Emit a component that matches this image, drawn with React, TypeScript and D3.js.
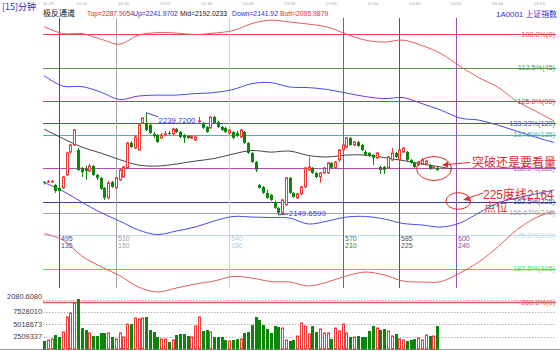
import React from 'react';
import * as d3 from 'd3';

// 15-minute bars, index 0 = first bar on screen (cycle count 491)
const opens = [
  2179.0, 2178.7, 2178.9, 2176.1, 2173.5, 2173.5, 2184.9, 2205.1, 2211.3, 2206.9,
  2191.1, 2190.2, 2188.4, 2192.8, 2184.9, 2182.3, 2173.5, 2164.7, 2178.7, 2173.5,
  2180.5, 2183.1, 2191.1, 2213.1, 2208.7, 2206.9, 2230.7, 2230.7, 2228.9, 2221.0,
  2220.1, 2217.5, 2220.6, 2221.9, 2221.0, 2225.4, 2222.7, 2220.1, 2219.2, 2217.5,
  2215.7, 2232.0, 2230.7, 2227.2, 2226.3, 2235.9, 2231.5, 2227.2, 2226.3, 2221.9,
  2222.7, 2221.9, 2218.3, 2222.7, 2213.1, 2204.3, 2196.3, 2176.1, 2174.3, 2169.1,
  2167.3, 2161.1, 2155.9, 2151.5, 2158.5, 2182.3, 2169.1, 2164.7, 2168.2, 2174.3,
  2189.3, 2191.1, 2186.7, 2183.1, 2186.7, 2186.7, 2195.5, 2191.1, 2198.1, 2206.9,
  2209.5, 2217.5, 2211.3, 2213.9, 2211.3, 2205.1, 2204.3, 2202.5, 2199.9, 2191.9,
  2191.9, 2191.1, 2198.1, 2204.3, 2198.1, 2205.1, 2205.1, 2198.1, 2195.5, 2193.7,
  2194.6, 2194.6, 2193.7, 2191.9, 2191.1,
];
const highs = [
  2179.6, 2180.5, 2180.5, 2177.0, 2175.2, 2184.0, 2205.1, 2212.2, 2225.4, 2208.7,
  2191.9, 2192.8, 2194.6, 2193.7, 2185.8, 2183.1, 2174.3, 2179.6, 2179.6, 2183.1,
  2190.2, 2192.8, 2213.9, 2214.8, 2220.1, 2229.8, 2235.9, 2239.72, 2229.8, 2222.7,
  2221.0, 2221.9, 2223.6, 2223.6, 2226.3, 2226.3, 2223.6, 2221.0, 2220.1, 2220.1,
  2220.1, 2235.9, 2231.5, 2228.0, 2236.8, 2236.8, 2232.4, 2228.0, 2227.2, 2225.4,
  2223.6, 2223.6, 2225.4, 2223.6, 2213.9, 2205.1, 2197.2, 2177.0, 2175.2, 2171.7,
  2168.2, 2162.0, 2156.7, 2163.8, 2183.1, 2183.1, 2169.9, 2169.1, 2175.2, 2191.9,
  2200.7, 2191.9, 2187.5, 2187.5, 2191.9, 2196.3, 2196.3, 2197.2, 2207.8, 2212.2,
  2218.3, 2218.3, 2214.8, 2214.8, 2212.2, 2206.9, 2205.1, 2203.4, 2205.1, 2192.8,
  2192.8, 2201.6, 2208.7, 2205.1, 2207.8, 2209.5, 2206.0, 2199.0, 2196.3, 2197.2,
  2199.9, 2198.1, 2194.6, 2192.8, 2191.9,
];
const lows = [
  2176.5, 2177.9, 2177.9, 2169.1, 2169.1, 2172.6, 2184.0, 2203.4, 2210.4, 2188.4,
  2183.1, 2180.5, 2187.5, 2184.0, 2180.5, 2171.7, 2162.9, 2163.8, 2173.5, 2172.6,
  2179.6, 2182.3, 2190.2, 2208.7, 2207.8, 2206.0, 2229.8, 2223.6, 2221.0, 2217.5,
  2213.1, 2216.6, 2219.2, 2220.1, 2220.1, 2221.9, 2217.5, 2213.1, 2216.6, 2216.6,
  2214.8, 2230.7, 2225.4, 2221.9, 2225.4, 2229.8, 2226.3, 2223.6, 2221.9, 2220.1,
  2216.6, 2218.3, 2217.5, 2212.2, 2203.4, 2195.5, 2187.5, 2172.6, 2168.2, 2163.8,
  2162.0, 2155.0, 2149.66, 2150.6, 2157.6, 2168.2, 2164.7, 2163.8, 2167.3, 2173.5,
  2188.4, 2185.8, 2182.3, 2177.9, 2185.8, 2185.8, 2190.2, 2190.2, 2196.3, 2206.0,
  2208.7, 2210.4, 2210.4, 2209.5, 2206.0, 2201.6, 2200.7, 2193.7, 2199.0, 2185.8,
  2185.8, 2190.2, 2197.2, 2199.9, 2197.2, 2204.3, 2197.2, 2194.6, 2191.1, 2192.8,
  2193.7, 2193.7, 2189.3, 2191.1, 2188.4,
];
const closes = [
  2178.7, 2179.2, 2179.3, 2170.8, 2170.8, 2183.1, 2204.3, 2211.3, 2224.5, 2189.3,
  2187.5, 2188.4, 2192.8, 2184.9, 2182.3, 2172.6, 2164.7, 2177.9, 2174.3, 2182.3,
  2189.3, 2191.9, 2213.1, 2209.5, 2218.3, 2228.9, 2235.1, 2224.5, 2221.9, 2219.2,
  2213.9, 2220.1, 2221.0, 2221.5, 2225.4, 2222.7, 2218.3, 2217.5, 2217.5, 2219.2,
  2218.3, 2232.4, 2226.3, 2222.7, 2235.9, 2230.7, 2227.2, 2224.5, 2222.7, 2224.5,
  2217.5, 2219.2, 2224.5, 2213.1, 2204.3, 2196.3, 2189.3, 2173.5, 2169.1, 2164.7,
  2162.9, 2155.9, 2151.5, 2162.9, 2182.3, 2169.1, 2165.5, 2168.2, 2174.3, 2191.1,
  2191.9, 2186.7, 2183.1, 2186.7, 2191.1, 2195.5, 2191.1, 2196.3, 2206.9, 2211.3,
  2217.5, 2211.3, 2213.9, 2210.4, 2206.9, 2202.5, 2201.6, 2199.9, 2204.3, 2189.3,
  2189.3, 2200.7, 2204.3, 2200.7, 2206.9, 2208.7, 2198.1, 2195.5, 2191.9, 2196.3,
  2198.1, 2197.2, 2190.2, 2191.9, 2189.3,
];
const volumes = [
  1630000, 1830000, 2030000, 2840000, 2440000, 3450000, 6500000, 7310000, 9350000, 10160000,
  4270000, 3860000, 3250000, 2640000, 2640000, 3250000, 3250000, 3250000, 2440000, 2030000,
  3250000, 2440000, 5080000, 5080000, 6300000, 6100000, 6300000, 6500000, 3860000, 3450000,
  2440000, 2030000, 2030000, 1420000, 1830000, 2840000, 3050000, 3050000, 2640000, 2440000,
  4670000, 6500000, 3660000, 3860000, 3450000, 2440000, 2440000, 2440000, 1830000, 1630000,
  1830000, 2030000, 2030000, 3250000, 3450000, 4880000, 6500000, 5890000, 4880000, 4060000,
  3250000, 4670000, 4470000, 4270000, 1830000, 1630000, 1830000, 2640000, 5280000, 4670000,
  3050000, 4670000, 3450000, 4060000, 3250000, 3250000, 2030000, 4270000, 3660000, 5080000,
  3250000, 2440000, 2440000, 2640000, 2440000, 2440000, 3660000, 4670000, 4270000, 3860000,
  4060000, 3660000, 2640000, 3050000, 2030000, 1830000, 1630000, 1830000, 2030000, 2240000,
  1830000, 2840000, 2640000, 2640000, 4670000,
];

// channel lines, sampled every 5 bars (bar index in chanIdx)
const chanIdx = [0, 5, 10, 15, 20, 25, 30, 35, 40, 45, 50, 55, 60, 65, 70, 75, 80, 85, 90, 95, 100, 105, 110, 115, 120, 125, 130, 135];
const topLine = [2315.5, 2309.4, 2309.4, 2304.5, 2300.1, 2308.0, 2310.2, 2309.8, 2308.5, 2309.8, 2312.0, 2318.2, 2321.2, 2319.5, 2317.7, 2315.1, 2308.9, 2303.6, 2301.9, 2303.6, 2298.8, 2291.8, 2280.7, 2270.6, 2262.3, 2250.0, 2241.1, 2232.3];
const upLine = [2272.4, 2263.1, 2262.7, 2257.9, 2251.3, 2254.4, 2255.2, 2255.2, 2256.5, 2257.4, 2260.1, 2265.3, 2266.2, 2262.3, 2261.8, 2260.1, 2257.0, 2253.9, 2252.1, 2253.0, 2247.7, 2242.0, 2235.0, 2233.2, 2228.8, 2223.5, 2218.2, 2213.4];
const downLine = [2178.2, 2170.7, 2161.0, 2151.8, 2144.3, 2136.4, 2132.4, 2135.5, 2139.0, 2144.3, 2148.3, 2147.8, 2147.4, 2146.9, 2141.7, 2144.3, 2147.8, 2148.3, 2146.1, 2142.1, 2140.8, 2139.0, 2142.5, 2151.4, 2160.1, 2164.5, 2168.1, 2171.6];
const bottLine = [2133.3, 2127.6, 2113.5, 2104.2, 2096.3, 2086.2, 2081.8, 2085.3, 2088.8, 2091.5, 2095.5, 2094.1, 2091.0, 2090.6, 2087.1, 2090.6, 2095.9, 2099.4, 2096.8, 2091.5, 2090.6, 2091.0, 2098.5, 2108.2, 2121.4, 2136.4, 2147.0, 2153.1];
const midIdx = [0, 5, 10, 15, 20, 25, 30, 35, 40, 45, 50, 55, 60, 65, 70, 75, 80, 85, 90, 95, 100, 105, 108];
const midLine = [2225.3, 2217.0, 2209.4, 2204.2, 2198.4, 2193.6, 2192.7, 2194.5, 2197.1, 2199.3, 2203.3, 2206.4, 2205.0, 2205.9, 2202.0, 2200.7, 2202.4, 2202.4, 2200.2, 2197.6, 2194.5, 2191.9, 2190.1];

// gann levels
const levelPct = [100, 112.5, 125, 133.33, 137.5, 150, 162.5, 166.67, 175, 187.5, 200];
const levelNames = ['100.0%(0)', '112.5%(45)', '125.0%(90)', '133.33%(120)', '137.5%(135)', '150.0%(180)', '162.5%(225)', '166.67%(240)', '175.0%(270)', '187.5%(315)', '200.0%(0)'];
const levelColors = ['#e44a4a', '#4f9a4f', '#b04c4c', '#4a4ae0', '#4eb4aa', '#b04cb0', '#3e3e9a', '#a4a4a4', '#c6daee', '#4ee04e', '#e45a5a'];

// time cycle lines
const cycleIdx = [4, 19, 49, 79, 94, 109];
const cycleA = ['495', '510', '540', '570', '585', '600'];
const cycleB = ['135', '150', '180', '210', '225', '240'];
const cycleColors = ['#4a4aa0', '#a8a8a8', '#c8d4e8', '#3a8a3a', '#8a3a5a', '#9050b8'];
const cycleText = ['#4a4aa0', '#a0a0a0', '#b8c8e0', '#3a7a3a', '#7a4a3a', '#7050a0'];

const timeIdx = [0, 10, 21, 32, 43, 54, 65, 76, 87, 98, 109, 120, 131];
const timeLabels = ['11:25', '10:15', '14:30', '13:15', '10:30', '14:45', '13:30', '10:45', '15:00', '13:44', '10:53', '09:44', '13:53'];

const volTicks = [2509337, 5018673, 7528010];
const volTickNames = ['2509337', '5018673', '7528010'];

const x = d3.scaleLinear().domain([0, 135]).range([44, 554.3]);
const yPrice = d3.scaleLinear().domain([2073, 2309]).range([302, 34]);
const yLevel = d3.scaleLinear().domain([100, 200]).range([34, 302]);
const yVol = d3.scaleLinear().domain([0, 10037346]).range([349, 299.6]);

const RED = '#f03a3a';
const GREEN = '#0b860b';
const FONT = '"Liberation Sans", "Noto Sans CJK SC", sans-serif';
const CJK = '"Noto Sans CJK SC", sans-serif';

function path(idx: number[], vals: number[]) {
  return d3.line<number>()
    .x((_, i) => x(idx[i]))
    .y(v => yPrice(v))
    .curve(d3.curveCatmullRom)(vals) || '';
}

export default function App() {
  const hiIdx = highs.indexOf(d3.max(highs) as number);
  const loIdx = lows.indexOf(d3.min(lows) as number);
  return (
    <svg width={560} height={351} style={{ position: 'absolute', left: 0, top: 0, background: '#fff' }}
      fontFamily={FONT}>
      <rect width={560} height={351} fill="#fff" />

      {/* header */}
      <text x={2} y={10} fontSize={9} fill="#2a2ac8" fontFamily={CJK}>[15]分钟</text>
      {timeIdx.map((t, i) => (
        <text key={i} x={i === 0 ? 43 : x(t)} y={5} fontSize={4.4} fill="#a8a8a8"
          textAnchor={i === 0 ? 'start' : 'middle'}>{timeLabels[i]}</text>
      ))}
      <text x={43} y={16} fontSize={8} fill="#111" fontFamily={CJK}>极反通道</text>
      <text x={87} y={16} fontSize={6.8} fill="#e02c2c">Top=2287.9054</text>
      <text x={133} y={16} fontSize={6.8} fill="#2c2cd8">Up=2241.9702</text>
      <text x={180} y={16} fontSize={6.8} fill="#111">Mid=2192.0233</text>
      <text x={232} y={16} fontSize={6.8} fill="#2c2cd8">Down=2141.92</text>
      <text x={280} y={16} fontSize={6.8} fill="#e02c2c">Bott=2095.9879</text>
      <text x={557} y={16.5} fontSize={7.9} fill="#2c2cd8" textAnchor="end">1A0001 <tspan fontFamily={CJK}>上证指数</tspan></text>

      {/* level lines */}
      {levelPct.map((p, i) => (
        <line key={i} x1={43} x2={556} y1={Math.round(yLevel(p)) + 0.5} y2={Math.round(yLevel(p)) + 0.5}
          stroke={levelColors[i]} strokeWidth={i === 10 ? 1.4 : 1} />
      ))}

      {/* volume grid */}
      {volTicks.map((v, i) => (
        <g key={i}>
          <line x1={43} x2={556} y1={Math.round(yVol(v)) + 0.5} y2={Math.round(yVol(v)) + 0.5}
            stroke="#b4b4b4" strokeDasharray="1.5,1.5" />
          <text x={42} y={yVol(v) + 2.5} fontSize={7.4} fill="#404040" textAnchor="end">{volTickNames[i]}</text>
        </g>
      ))}
      <line x1={43} x2={556} y1={Math.round(yVol(10037346)) + 0.5} y2={Math.round(yVol(10037346)) + 0.5}
        stroke="#f09a9a" strokeDasharray="1.5,1.5" />
      <text x={42} y={298.5} fontSize={7.4} fill="#404040" textAnchor="end">2080.6080</text>
      <line x1={0} x2={560} y1={349.5} y2={349.5} stroke="#999" />

      {/* cycle lines */}
      {cycleIdx.map((c, i) => {
        const cx = Math.round(x(c)) + 0.5;
        return (
          <g key={i}>
            <line x1={cx} x2={cx} y1={18} y2={288} stroke={cycleColors[i]} />
            <text x={cx + 1.5} y={241} fontSize={7} fill={cycleText[i]}>{cycleA[i]}</text>
            <text x={cx + 1.5} y={248} fontSize={7} fill={cycleText[i]}>{cycleB[i]}</text>
          </g>
        );
      })}

      {/* channel */}
      <path d={path(chanIdx, topLine)} fill="none" stroke="#e85a5a" />
      <path d={path(chanIdx, upLine)} fill="none" stroke="#4a4ae2" />
      <path d={path(midIdx, midLine)} fill="none" stroke="#444" />
      <path d={path(chanIdx, downLine)} fill="none" stroke="#4a4ae2" />
      <path d={path(chanIdx, bottLine)} fill="none" stroke="#e85a5a" />

      {/* level labels */}
      {levelPct.map((p, i) => (
        <text key={i} x={555} y={yLevel(p) + 2.6} fontSize={7.3} fill={levelColors[i]} textAnchor="end">{levelNames[i]}</text>
      ))}

      {/* candles */}
      {opens.map((o, i) => {
        const c = closes[i];
        const up = c >= o;
        const col = up ? RED : GREEN;
        const cx = Math.round(x(i)) + 0.5;
        const yt = yPrice(Math.max(o, c));
        const yb = yPrice(Math.min(o, c));
        return (
          <g key={i}>
            <line x1={cx} x2={cx} y1={yPrice(highs[i])} y2={yt} stroke={col} />
            <line x1={cx} x2={cx} y1={yb} y2={yPrice(lows[i])} stroke={col} />
            {up
              ? <rect x={cx - 1} y={yt} width={2} height={Math.max(yb - yt, 0.6)} fill="#fff" stroke={col} />
              : <rect x={cx - 1.5} y={yt} width={3} height={Math.max(yb - yt, 1)} fill={col} />}
          </g>
        );
      })}

      {/* volume bars */}
      {volumes.map((v, i) => {
        const up = closes[i] >= opens[i];
        const cx = Math.round(x(i)) + 0.5;
        const yt = yVol(v);
        return up
          ? <rect key={i} x={cx - 1} y={yt} width={2} height={349 - yt} fill="#fff" stroke={RED} />
          : <rect key={i} x={cx - 1.5} y={yt} width={3} height={349.5 - yt} fill={GREEN} />;
      })}

      {/* high / low labels */}
      <line x1={x(hiIdx)} y1={yPrice(highs[hiIdx])} x2={x(hiIdx) + 12} y2={yPrice(highs[hiIdx]) + 4} stroke="#4040d0" />
      <text x={x(hiIdx) + 12.5} y={yPrice(highs[hiIdx]) + 10} fontSize={7.8} fill="#3a3ad0">2239.7200</text>
      <line x1={x(loIdx)} y1={yPrice(lows[loIdx])} x2={x(loIdx) + 10} y2={yPrice(lows[loIdx]) - 1} stroke="#4040d0" />
      <text x={x(loIdx) + 10.5} y={yPrice(lows[loIdx]) + 1.5} fontSize={7.8} fill="#3a3ad0">2149.6599</text>

      {/* annotations */}
      <ellipse cx={434} cy={168.5} rx={17.5} ry={12} fill="none" stroke="#e02a2a" />
      <line x1={447} y1={164.5} x2={470} y2={162.5} stroke="#e02a2a" />
      <path d="M442,165 L448,161.5 L448,167.5 Z" fill="#e02a2a" />
      <text x={472} y={167} fontSize={12} fill="#e02a2a" fontFamily={CJK}>突破还是要看量</text>

      <ellipse cx={458.3} cy={201} rx={12.3} ry={8.3} fill="none" stroke="#e02a2a" />
      <line x1={467} y1={198.5} x2={483} y2={193} stroke="#e02a2a" />
      <path d="M463,200 L469,195.5 L470,201 Z" fill="#e02a2a" />
      <text x={483} y={199} fontSize={12} fill="#e02a2a" fontFamily={FONT}>225<tspan fontFamily={CJK}>度线</tspan>2164</text>
      <text x={484} y={212} fontSize={12} fill="#e02a2a" fontFamily={CJK}>点位</text>
    </svg>
  );
}
